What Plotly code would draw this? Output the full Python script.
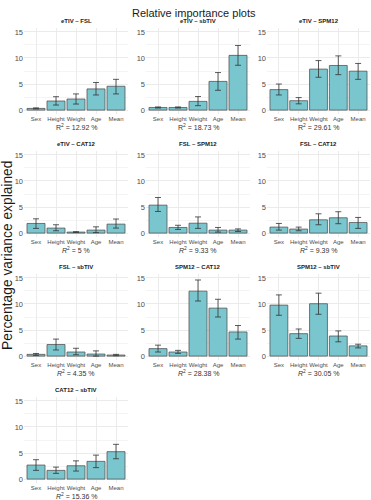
import plotly.graph_objects as go

categories = ["Sex", "Height", "Weight", "Age", "Mean"]
y_ticks = [0, 5, 10, 15]
panel_titles = ["eTIV – FSL", "eTIV – sbTIV", "eTIV – SPM12",
                "eTIV – CAT12", "FSL – SPM12", "FSL – CAT12",
                "FSL – sbTIV", "SPM12 – CAT12", "SPM12 – sbTIV",
                "CAT12 – sbTIV"]
r_squared = [12.92, 18.73, 29.61, 5, 9.33, 9.39, 4.35, 28.38, 30.05, 15.36]

etiv_fsl = [0.32, 1.74, 2.12, 4.06, 4.57]
etiv_fsl_lo = [0.22, 0.97, 1.16, 2.9, 3.1]
etiv_fsl_hi = [0.42, 2.57, 3.1, 5.3, 5.9]

etiv_sbtiv = [0.5, 0.5, 1.67, 5.5, 10.5]
etiv_sbtiv_lo = [0.4, 0.4, 0.85, 3.8, 8.6]
etiv_sbtiv_hi = [0.6, 0.6, 2.6, 7.2, 12.4]

etiv_spm12 = [3.93, 1.8, 7.86, 8.56, 7.47]
etiv_spm12_lo = [2.9, 1.2, 6.3, 6.8, 5.9]
etiv_spm12_hi = [5.0, 2.4, 9.5, 10.4, 8.95]

etiv_cat12 = [1.85, 0.96, 0.19, 0.57, 1.72]
etiv_cat12_lo = [0.9, 0.45, 0.12, 0.1, 0.96]
etiv_cat12_hi = [2.74, 1.6, 0.27, 1.2, 2.7]

fsl_spm12 = [5.36, 1.08, 1.9, 0.57, 0.57]
fsl_spm12_lo = [4.15, 0.7, 0.9, 0.19, 0.3]
fsl_spm12_hi = [6.83, 1.5, 3.1, 1.08, 0.8]

fsl_cat12 = [1.15, 0.77, 2.55, 2.94, 2.04]
fsl_cat12_lo = [0.57, 0.45, 1.6, 1.8, 0.9]
fsl_cat12_hi = [1.85, 1.15, 3.7, 4.1, 3.0]

fsl_sbtiv = [0.33, 2.22, 0.78, 0.39, 0.2]
fsl_sbtiv_lo = [0.13, 1.17, 0.26, 0.0, 0.07]
fsl_sbtiv_hi = [0.5, 3.26, 1.5, 1.0, 0.33]

spm12_cat12 = [1.43, 0.78, 12.46, 9.2, 4.63]
spm12_cat12_lo = [0.78, 0.52, 10.57, 7.5, 3.26]
spm12_cat12_hi = [2.1, 1.1, 14.6, 10.9, 5.87]

spm12_sbtiv = [9.78, 4.3, 10.05, 3.85, 1.96]
spm12_sbtiv_lo = [7.83, 3.4, 8.02, 2.74, 1.57]
spm12_sbtiv_hi = [11.74, 5.2, 12.07, 4.83, 2.28]

cat12_sbtiv = [2.69, 1.67, 2.56, 3.4, 5.26]
cat12_sbtiv_lo = [1.67, 1.1, 1.54, 2.2, 3.9]
cat12_sbtiv_hi = [3.72, 2.3, 3.5, 4.6, 6.67]

panels = [
    (etiv_fsl, etiv_fsl_lo, etiv_fsl_hi),
    (etiv_sbtiv, etiv_sbtiv_lo, etiv_sbtiv_hi),
    (etiv_spm12, etiv_spm12_lo, etiv_spm12_hi),
    (etiv_cat12, etiv_cat12_lo, etiv_cat12_hi),
    (fsl_spm12, fsl_spm12_lo, fsl_spm12_hi),
    (fsl_cat12, fsl_cat12_lo, fsl_cat12_hi),
    (fsl_sbtiv, fsl_sbtiv_lo, fsl_sbtiv_hi),
    (spm12_cat12, spm12_cat12_lo, spm12_cat12_hi),
    (spm12_sbtiv, spm12_sbtiv_lo, spm12_sbtiv_hi),
    (cat12_sbtiv, cat12_sbtiv_lo, cat12_sbtiv_hi),
]

W, H = 371, 500
FONT = "Liberation Sans, Arial, sans-serif"
col_px = [(24, 128), (146, 250), (267, 370)]
row_top = 28
row_step = 123
row_h = 86


def px_x(x):
    return x / W


def px_y(y):
    return 1 - y / H


fig = go.Figure()
annotations = []

for i, ((vals, lo, hi), title, r2) in enumerate(zip(panels, panel_titles, r_squared)):
    r, c = divmod(i, 3)
    x0, x1 = col_px[c]
    top = row_top + r * row_step
    bot = top + row_h
    n = i + 1
    xa = "x" if n == 1 else f"x{n}"
    ya = "y" if n == 1 else f"y{n}"
    fig.add_trace(go.Bar(
        x=categories, y=vals, xaxis=xa, yaxis=ya,
        width=0.9,
        marker=dict(color="#79C6CE", line=dict(color="#555555", width=0.8)),
        error_y=dict(type="data", symmetric=False,
                     array=[h - v for h, v in zip(hi, vals)],
                     arrayminus=[v - l for v, l in zip(vals, lo)],
                     color="#333333", thickness=0.8, width=3),
        showlegend=False, hoverinfo="skip",
    ))
    fig.layout[f"xaxis{'' if n == 1 else n}"] = dict(
        domain=[px_x(x0), px_x(x1)], anchor=ya,
        type="category", range=[-0.6, 4.6],
        showgrid=True, gridcolor="#ebebeb", gridwidth=0.6,
        zeroline=False, showline=False, ticks="", tickangle=0,
        ticklabelstandoff=0,
        tickfont=dict(size=6, color="#4d4d4d", family=FONT),
        fixedrange=True,
    )
    fig.layout[f"yaxis{'' if n == 1 else n}"] = dict(
        domain=[px_y(bot), px_y(top)], anchor=xa,
        range=[-0.75, 15.75], tickvals=y_ticks,
        showgrid=True, gridcolor="#ebebeb", gridwidth=0.6,
        minor=dict(tickvals=[2.5, 7.5, 12.5], showgrid=True,
                   gridcolor="#f4f4f4", gridwidth=0.4),
        zeroline=False, showline=False, ticks="",
        tickfont=dict(size=7.5, color="#4d4d4d", family=FONT),
        fixedrange=True,
    )
    cx = px_x((x0 + x1) / 2)
    annotations.append(dict(
        text=f"<b>{title}</b>", x=cx, y=px_y(top - 7), xref="paper", yref="paper",
        showarrow=False, font=dict(size=6, color="#1a1a1a", family=FONT),
        xanchor="center", yanchor="middle"))
    rlab = f"R<sup>2</sup> = {r2:g} %" if r == 0 else f"<i>R</i><sup>2</sup> = {r2:g} %"
    annotations.append(dict(
        text=rlab, x=cx, y=px_y(bot + 13), xref="paper", yref="paper",
        showarrow=False, font=dict(size=7, color="#333333", family=FONT),
        xanchor="center", yanchor="middle"))

annotations.append(dict(
    text="Relative importance plots", x=px_x(194), y=px_y(13),
    xref="paper", yref="paper", showarrow=False,
    font=dict(size=11, color="#1a1a1a", family=FONT),
    xanchor="center", yanchor="middle"))
annotations.append(dict(
    text="Percentage variance explained", x=px_x(7), y=px_y(256),
    xref="paper", yref="paper", showarrow=False, textangle=-90,
    font=dict(size=13.8, color="#1a1a1a", family=FONT),
    xanchor="center", yanchor="middle"))

fig.update_layout(
    width=W, height=H,
    margin=dict(l=0, r=0, t=0, b=0),
    paper_bgcolor="white", plot_bgcolor="white",
    annotations=annotations,
    bargap=0.1,
    font=dict(family=FONT),
)

fig.write_html(
    "out.html", include_plotlyjs=True, config={"displayModeBar": False},
    post_script="document.body.style.margin='0';document.body.style.overflow='hidden';",
)
